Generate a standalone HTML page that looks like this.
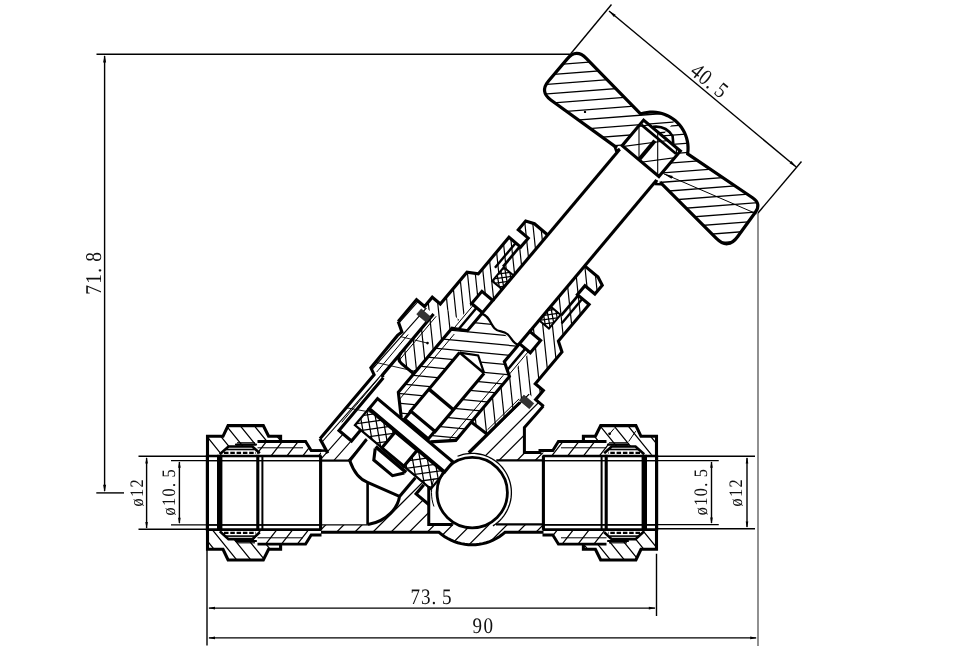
<!DOCTYPE html>
<html><head><meta charset="utf-8"><title>Valve drawing</title>
<style>
html,body{margin:0;padding:0;background:#fff;}
body{width:969px;height:664px;overflow:hidden;}
svg{display:block;will-change:transform;}
text{font-family:"Liberation Serif","Noto Serif CJK SC",serif;fill:#111;text-rendering:geometricPrecision;}
</style></head><body>
<svg width="969" height="664" viewBox="0 0 969 664" stroke-linejoin="miter" stroke-linecap="butt">
<rect width="969" height="664" fill="#fff"/>
<!-- section -->
<line x1="96.50" y1="54.20" x2="570.00" y2="54.20" stroke="#000" stroke-width="1.4" />
<line x1="104.60" y1="56.00" x2="104.60" y2="491.00" stroke="#000" stroke-width="1.4" />
<path d="M104.60,55.00L106.10,62.50L103.10,62.50Z" fill="#000" stroke="none"/>
<path d="M104.60,492.20L103.10,484.70L106.10,484.70Z" fill="#000" stroke="none"/>
<line x1="96.30" y1="492.90" x2="124.00" y2="492.90" stroke="#000" stroke-width="1.4" />
<text transform="translate(101.00,294.80) rotate(-90.00) scale(0.86,1)" x="0.00 12.85 25.70 38.55" y="0" font-size="22.6" >71.8</text>
<line x1="138.50" y1="456.25" x2="207.00" y2="456.25" stroke="#000" stroke-width="1.4" />
<line x1="138.50" y1="529.20" x2="207.00" y2="529.20" stroke="#000" stroke-width="1.4" />
<line x1="146.60" y1="458.00" x2="146.60" y2="528.00" stroke="#000" stroke-width="1.4" />
<path d="M146.60,456.90L147.90,463.40L145.30,463.40Z" fill="#000" stroke="none"/>
<path d="M146.60,528.60L145.30,522.10L147.90,522.10Z" fill="#000" stroke="none"/>
<line x1="171.00" y1="460.60" x2="320.00" y2="460.60" stroke="#000" stroke-width="1.4" />
<line x1="171.00" y1="524.90" x2="320.00" y2="524.90" stroke="#000" stroke-width="1.4" />
<line x1="179.40" y1="462.00" x2="179.40" y2="523.00" stroke="#000" stroke-width="1.4" />
<path d="M179.40,461.20L180.70,467.70L178.10,467.70Z" fill="#000" stroke="none"/>
<path d="M179.40,524.30L178.10,517.80L180.70,517.80Z" fill="#000" stroke="none"/>
<text transform="translate(142.60,506.60) rotate(-90.00) scale(0.86,1)" x="0.00 11.05 22.09" y="0" font-size="19" >ø12</text>
<text transform="translate(175.00,515.40) rotate(-90.00) scale(0.86,1)" x="0.00 11.05 22.09 33.14 44.19" y="0" font-size="19" >ø10.5</text>
<line x1="657.00" y1="456.25" x2="755.00" y2="456.25" stroke="#000" stroke-width="1.4" />
<line x1="657.00" y1="528.75" x2="755.00" y2="528.75" stroke="#000" stroke-width="1.4" />
<line x1="747.00" y1="458.00" x2="747.00" y2="527.00" stroke="#000" stroke-width="1.4" />
<path d="M747.00,456.90L748.30,463.40L745.70,463.40Z" fill="#000" stroke="none"/>
<path d="M747.00,528.10L745.70,521.60L748.30,521.60Z" fill="#000" stroke="none"/>
<line x1="543.00" y1="460.60" x2="718.75" y2="460.60" stroke="#000" stroke-width="1.4" />
<line x1="543.00" y1="524.60" x2="718.75" y2="524.60" stroke="#000" stroke-width="1.4" />
<line x1="711.50" y1="462.00" x2="711.50" y2="523.00" stroke="#000" stroke-width="1.4" />
<path d="M711.50,461.20L712.80,467.70L710.20,467.70Z" fill="#000" stroke="none"/>
<path d="M711.50,524.00L710.20,517.50L712.80,517.50Z" fill="#000" stroke="none"/>
<text transform="translate(707.00,515.30) rotate(-90.00) scale(0.86,1)" x="0.00 11.05 22.09 33.14 44.19" y="0" font-size="19" >ø10.5</text>
<text transform="translate(741.90,506.50) rotate(-90.00) scale(0.86,1)" x="0.00 11.05 22.09" y="0" font-size="19" >ø12</text>
<line x1="207.00" y1="548.00" x2="207.00" y2="645.50" stroke="#000" stroke-width="1.4" />
<line x1="656.50" y1="553.75" x2="656.50" y2="616.00" stroke="#000" stroke-width="1.4" />
<line x1="209.00" y1="608.10" x2="655.00" y2="608.10" stroke="#000" stroke-width="1.4" />
<path d="M208.00,608.10L215.00,606.80L215.00,609.40Z" fill="#000" stroke="none"/>
<path d="M655.80,608.10L648.80,609.40L648.80,606.80Z" fill="#000" stroke="none"/>
<line x1="209.00" y1="637.90" x2="756.00" y2="637.90" stroke="#000" stroke-width="1.4" />
<path d="M208.00,637.90L215.00,636.60L215.00,639.20Z" fill="#000" stroke="none"/>
<path d="M757.20,637.90L750.20,639.20L750.20,636.60Z" fill="#000" stroke="none"/>
<line x1="758.00" y1="213.00" x2="758.00" y2="646.00" stroke="#555" stroke-width="1.3" />
<text transform="translate(410.40,604.10) rotate(0.00) scale(0.86,1)" x="0.00 12.27 24.53 36.80" y="0" font-size="22.2" >73.5</text>
<text transform="translate(472.60,633.40) rotate(0.00) scale(0.86,1)" x="0.00 12.67" y="0" font-size="22.2" >90</text>
<line x1="609.00" y1="11.00" x2="796.25" y2="167.00" stroke="#000" stroke-width="1.4" />
<path d="M609.00,11.00L615.66,14.72L613.87,16.88Z" fill="#000" stroke="none"/>
<path d="M796.25,167.00L789.59,163.28L791.38,161.12Z" fill="#000" stroke="none"/>
<line x1="570.50" y1="54.00" x2="611.50" y2="4.50" stroke="#000" stroke-width="1.4" />
<line x1="758.00" y1="213.00" x2="801.50" y2="161.50" stroke="#000" stroke-width="1.4" />
<text transform="translate(689.00,73.60) rotate(39.00) scale(0.86,1)" x="0.00 11.98 23.95 35.93" y="0" font-size="22.4" >40.5</text>
<!-- section -->
<clipPath id="c1"><path d="M207.50,436.30 L223.00,436.30 L228.10,425.60 L263.30,425.60 L268.60,436.30 L280.60,436.30 L280.60,441.50 L257.50,441.50 L252.00,446.50 L228.00,446.50 L219.50,454.80 L207.50,454.80Z" clip-rule="evenodd"/></clipPath>
<g clip-path="url(#c1)" stroke="#000" stroke-width="1.25" fill="none"><path d="M258.6,379.1L358.4,502.4M250.2,386.0L350.0,509.2M241.7,392.8L341.5,516.1M233.2,399.7L333.0,523.0M224.7,406.6L324.5,529.8M216.3,413.4L316.1,536.7M207.8,420.3L307.6,543.5M199.3,427.1L299.1,550.4M190.9,434.0L290.7,557.2M182.4,440.9L282.2,564.1M173.9,447.7L273.7,571.0M165.4,454.6L265.3,577.8M157.0,461.4L256.8,584.7M148.5,468.3L248.3,591.5M140.0,475.2L239.8,598.4M131.6,482.0L231.4,605.3"/></g>
<clipPath id="c2"><path d="M257.50,441.50 L305.60,441.50 L311.20,450.60 L321.00,450.60 L321.00,456.20 L259.00,456.20 L252.00,446.50Z" clip-rule="evenodd"/></clipPath>
<g clip-path="url(#c2)" stroke="#000" stroke-width="1.25" fill="none"><path d="M188.6,500.6L270.0,396.4M198.5,508.3L279.8,404.1M208.3,515.9L289.7,411.8M218.2,523.6L299.5,419.5M228.0,531.3L309.4,427.2M237.9,539.0L319.2,434.9M247.7,546.7L329.1,442.6M257.6,554.4L338.9,450.3M267.4,562.1L348.8,458.0M277.3,569.8L358.6,465.7M287.1,577.5L368.5,473.4M297.0,585.2L378.3,481.1M306.8,592.9L388.2,488.8"/></g>
<path d="M207.50,456.20 L207.50,436.30 L223.00,436.30 L228.10,425.60 L263.30,425.60 L268.60,436.30 L280.60,436.30 L280.60,442.30" fill="none" stroke="#000" stroke-width="3.1" />
<path d="M257.50,441.50 L305.60,441.50 L311.20,450.60 L321.50,450.60" fill="none" stroke="#000" stroke-width="2.9" />
<line x1="257.50" y1="447.80" x2="303.00" y2="447.80" stroke="#000" stroke-width="1.0" />
<path d="M237.00,442.80 L255.00,442.80" fill="none" stroke="#000" stroke-width="1.2" />
<path d="M236.00,444.60 L256.00,444.60" fill="none" stroke="#000" stroke-width="2.2" stroke-linecap="round"/>
<path d="M219.80,454.30 L228.50,446.50 L252.30,446.50 L259.80,453.30" fill="none" stroke="#000" stroke-width="2.6" />
<path d="M226.00,449.50 L254.50,449.50" fill="none" stroke="#000" stroke-width="1.6" />
<path d="M224.00,452.80 L256.00,452.80" fill="none" stroke="#000" stroke-width="2.2" stroke-dasharray="4.5 1.8"/>
<path d="M207.50,456.00 L321.50,456.00" fill="none" stroke="#000" stroke-width="2.7" />
<line x1="207.50" y1="460.60" x2="320.40" y2="460.60" stroke="#000" stroke-width="1.4" />
<clipPath id="c3"><path d="M207.50,549.30 L223.00,549.30 L228.10,560.00 L263.30,560.00 L268.60,549.30 L280.60,549.30 L280.60,544.10 L257.50,544.10 L252.00,539.10 L228.00,539.10 L219.50,530.80 L207.50,530.80Z" clip-rule="evenodd"/></clipPath>
<g clip-path="url(#c3)" stroke="#000" stroke-width="1.25" fill="none"><path d="M258.6,379.1L358.4,502.4M250.2,386.0L350.0,509.2M241.7,392.8L341.5,516.1M233.2,399.7L333.0,523.0M224.7,406.6L324.5,529.8M216.3,413.4L316.1,536.7M207.8,420.3L307.6,543.5M199.3,427.1L299.1,550.4M190.9,434.0L290.7,557.2M182.4,440.9L282.2,564.1M173.9,447.7L273.7,571.0M165.4,454.6L265.3,577.8M157.0,461.4L256.8,584.7M148.5,468.3L248.3,591.5M140.0,475.2L239.8,598.4M131.6,482.0L231.4,605.3"/></g>
<clipPath id="c4"><path d="M257.50,544.10 L305.60,544.10 L311.20,535.00 L321.00,535.00 L321.00,529.40 L259.00,529.40 L252.00,539.10Z" clip-rule="evenodd"/></clipPath>
<g clip-path="url(#c4)" stroke="#000" stroke-width="1.25" fill="none"><path d="M188.6,500.6L270.0,396.4M198.5,508.3L279.8,404.1M208.3,515.9L289.7,411.8M218.2,523.6L299.5,419.5M228.0,531.3L309.4,427.2M237.9,539.0L319.2,434.9M247.7,546.7L329.1,442.6M257.6,554.4L338.9,450.3M267.4,562.1L348.8,458.0M277.3,569.8L358.6,465.7M287.1,577.5L368.5,473.4M297.0,585.2L378.3,481.1M306.8,592.9L388.2,488.8"/></g>
<path d="M207.50,529.40 L207.50,549.30 L223.00,549.30 L228.10,560.00 L263.30,560.00 L268.60,549.30 L280.60,549.30 L280.60,543.30" fill="none" stroke="#000" stroke-width="3.1" />
<path d="M257.50,544.10 L305.60,544.10 L311.20,535.00 L321.50,535.00" fill="none" stroke="#000" stroke-width="2.9" />
<line x1="257.50" y1="537.80" x2="303.00" y2="537.80" stroke="#000" stroke-width="1.0" />
<path d="M237.00,542.80 L255.00,542.80" fill="none" stroke="#000" stroke-width="1.2" />
<path d="M236.00,541.00 L256.00,541.00" fill="none" stroke="#000" stroke-width="2.2" stroke-linecap="round"/>
<path d="M219.80,531.30 L228.50,539.10 L252.30,539.10 L259.80,532.30" fill="none" stroke="#000" stroke-width="2.6" />
<path d="M226.00,536.10 L254.50,536.10" fill="none" stroke="#000" stroke-width="1.6" />
<path d="M224.00,532.80 L256.00,532.80" fill="none" stroke="#000" stroke-width="2.2" stroke-dasharray="4.5 1.8"/>
<path d="M207.50,529.60 L321.50,529.60" fill="none" stroke="#000" stroke-width="2.7" />
<line x1="207.50" y1="525.00" x2="320.40" y2="525.00" stroke="#000" stroke-width="1.4" />
<line x1="207.40" y1="454.80" x2="207.40" y2="530.80" stroke="#000" stroke-width="3.2" />
<line x1="219.70" y1="454.80" x2="219.70" y2="530.80" stroke="#000" stroke-width="5.4" />
<line x1="257.80" y1="454.80" x2="257.80" y2="530.80" stroke="#000" stroke-width="3.1" />
<line x1="262.40" y1="455.80" x2="262.40" y2="529.80" stroke="#000" stroke-width="2.0" />
<line x1="320.60" y1="455.80" x2="320.60" y2="529.80" stroke="#000" stroke-width="3.1" />
<clipPath id="c5"><path d="M656.50,436.30 L641.00,436.30 L635.90,425.60 L600.70,425.60 L595.40,436.30 L583.40,436.30 L583.40,441.50 L606.50,441.50 L612.00,446.50 L636.00,446.50 L644.50,454.80 L656.50,454.80Z" clip-rule="evenodd"/></clipPath>
<g clip-path="url(#c5)" stroke="#000" stroke-width="1.25" fill="none"><path d="M633.0,380.0L732.8,503.3M624.6,386.9L724.4,510.1M616.1,393.7L715.9,517.0M607.6,400.6L707.4,523.8M599.1,407.5L698.9,530.7M590.7,414.3L690.5,537.6M582.2,421.2L682.0,544.4M573.7,428.0L673.5,551.3M565.3,434.9L665.1,558.1M556.8,441.8L656.6,565.0M548.3,448.6L648.1,571.9M539.8,455.5L639.6,578.7M531.4,462.3L631.2,585.6M522.9,469.2L622.7,592.4M514.4,476.1L614.2,599.3M506.0,482.9L605.8,606.2"/></g>
<clipPath id="c6"><path d="M606.50,441.50 L558.40,441.50 L552.80,450.60 L543.00,450.60 L543.00,456.20 L605.00,456.20 L612.00,446.50Z" clip-rule="evenodd"/></clipPath>
<g clip-path="url(#c6)" stroke="#000" stroke-width="1.25" fill="none"><path d="M483.4,502.8L564.8,398.6M493.3,510.5L574.7,406.3M503.1,518.2L584.5,414.0M513.0,525.9L594.4,421.7M522.8,533.6L604.2,429.4M532.7,541.3L614.1,437.1M542.5,548.9L623.9,444.8M552.4,556.6L633.8,452.5M562.2,564.3L643.6,460.2M572.1,572.0L653.5,467.9M581.9,579.7L663.3,475.6M591.8,587.4L673.2,483.3"/></g>
<path d="M656.50,456.20 L656.50,436.30 L641.00,436.30 L635.90,425.60 L600.70,425.60 L595.40,436.30 L583.40,436.30 L583.40,442.30" fill="none" stroke="#000" stroke-width="3.1" />
<path d="M606.50,441.50 L558.40,441.50 L552.80,450.60 L542.50,450.60" fill="none" stroke="#000" stroke-width="2.9" />
<line x1="606.50" y1="447.80" x2="561.00" y2="447.80" stroke="#000" stroke-width="1.0" />
<path d="M627.00,442.80 L609.00,442.80" fill="none" stroke="#000" stroke-width="1.2" />
<path d="M628.00,444.60 L608.00,444.60" fill="none" stroke="#000" stroke-width="2.2" stroke-linecap="round"/>
<path d="M644.20,454.30 L635.50,446.50 L611.70,446.50 L604.20,453.30" fill="none" stroke="#000" stroke-width="2.6" />
<path d="M638.00,449.50 L609.50,449.50" fill="none" stroke="#000" stroke-width="1.6" />
<path d="M640.00,452.80 L608.00,452.80" fill="none" stroke="#000" stroke-width="2.2" stroke-dasharray="4.5 1.8"/>
<path d="M656.50,456.00 L542.50,456.00" fill="none" stroke="#000" stroke-width="2.7" />
<line x1="656.50" y1="460.60" x2="543.60" y2="460.60" stroke="#000" stroke-width="1.4" />
<clipPath id="c7"><path d="M656.50,549.30 L641.00,549.30 L635.90,560.00 L600.70,560.00 L595.40,549.30 L583.40,549.30 L583.40,544.10 L606.50,544.10 L612.00,539.10 L636.00,539.10 L644.50,530.80 L656.50,530.80Z" clip-rule="evenodd"/></clipPath>
<g clip-path="url(#c7)" stroke="#000" stroke-width="1.25" fill="none"><path d="M633.0,380.0L732.8,503.3M624.6,386.9L724.4,510.1M616.1,393.7L715.9,517.0M607.6,400.6L707.4,523.8M599.1,407.5L698.9,530.7M590.7,414.3L690.5,537.6M582.2,421.2L682.0,544.4M573.7,428.0L673.5,551.3M565.3,434.9L665.1,558.1M556.8,441.8L656.6,565.0M548.3,448.6L648.1,571.9M539.8,455.5L639.6,578.7M531.4,462.3L631.2,585.6M522.9,469.2L622.7,592.4M514.4,476.1L614.2,599.3M506.0,482.9L605.8,606.2"/></g>
<clipPath id="c8"><path d="M606.50,544.10 L558.40,544.10 L552.80,535.00 L543.00,535.00 L543.00,529.40 L605.00,529.40 L612.00,539.10Z" clip-rule="evenodd"/></clipPath>
<g clip-path="url(#c8)" stroke="#000" stroke-width="1.25" fill="none"><path d="M483.4,502.8L564.8,398.6M493.3,510.5L574.7,406.3M503.1,518.2L584.5,414.0M513.0,525.9L594.4,421.7M522.8,533.6L604.2,429.4M532.7,541.3L614.1,437.1M542.5,548.9L623.9,444.8M552.4,556.6L633.8,452.5M562.2,564.3L643.6,460.2M572.1,572.0L653.5,467.9M581.9,579.7L663.3,475.6M591.8,587.4L673.2,483.3"/></g>
<path d="M656.50,529.40 L656.50,549.30 L641.00,549.30 L635.90,560.00 L600.70,560.00 L595.40,549.30 L583.40,549.30 L583.40,543.30" fill="none" stroke="#000" stroke-width="3.1" />
<path d="M606.50,544.10 L558.40,544.10 L552.80,535.00 L542.50,535.00" fill="none" stroke="#000" stroke-width="2.9" />
<line x1="606.50" y1="537.80" x2="561.00" y2="537.80" stroke="#000" stroke-width="1.0" />
<path d="M627.00,542.80 L609.00,542.80" fill="none" stroke="#000" stroke-width="1.2" />
<path d="M628.00,541.00 L608.00,541.00" fill="none" stroke="#000" stroke-width="2.2" stroke-linecap="round"/>
<path d="M644.20,531.30 L635.50,539.10 L611.70,539.10 L604.20,532.30" fill="none" stroke="#000" stroke-width="2.6" />
<path d="M638.00,536.10 L609.50,536.10" fill="none" stroke="#000" stroke-width="1.6" />
<path d="M640.00,532.80 L608.00,532.80" fill="none" stroke="#000" stroke-width="2.2" stroke-dasharray="4.5 1.8"/>
<path d="M656.50,529.60 L542.50,529.60" fill="none" stroke="#000" stroke-width="2.7" />
<line x1="656.50" y1="525.00" x2="543.60" y2="525.00" stroke="#000" stroke-width="1.4" />
<line x1="656.60" y1="454.80" x2="656.60" y2="530.80" stroke="#000" stroke-width="3.2" />
<line x1="644.30" y1="454.80" x2="644.30" y2="530.80" stroke="#000" stroke-width="5.4" />
<line x1="606.20" y1="454.80" x2="606.20" y2="530.80" stroke="#000" stroke-width="3.1" />
<line x1="601.60" y1="455.80" x2="601.60" y2="529.80" stroke="#000" stroke-width="2.0" />
<line x1="543.40" y1="455.80" x2="543.40" y2="529.80" stroke="#000" stroke-width="3.1" />
<!-- section -->
<clipPath id="c9"><path d="M627.16,139.69L619.00,149.42L550.81,99.94Q539.49,91.71 548.52,81.02L567.05,59.10Q576.28,48.18 586.28,58.41L640.05,113.44L641.01,113.85L643.93,113.06L646.90,112.51L649.91,112.21L652.94,112.16L655.96,112.37L658.95,112.83L661.90,113.54L664.77,114.50L667.55,115.69L670.22,117.11L672.77,118.75L675.17,120.59L677.40,122.63L679.46,124.86L681.32,127.24L682.98,129.78L684.42,132.44L685.63,135.21L686.60,138.08L687.33,141.02L687.81,144.01L688.04,147.02L688.01,150.05L687.73,153.06L687.67,153.92L752.89,198.03Q761.46,203.82 755.38,212.19L737.53,236.78Q727.95,249.98 716.35,238.51L656.54,179.36L663.93,170.55ZM627.16,139.69 L663.93,170.55 L680.38,150.94 L643.61,120.08Z" clip-rule="evenodd"/></clipPath>
<g clip-path="url(#c9)">
<clipPath id="c10"><path d="M512.97,96.09 L620.22,186.08 L684.49,109.48 L577.25,19.49Z" clip-rule="evenodd"/></clipPath>
<g clip-path="url(#c10)" stroke="#000" stroke-width="1.3" fill="none"><path d="M495.8,21.8L693.7,6.6M496.5,31.3L694.4,16.1M497.2,40.7L695.2,25.5M498.0,50.2L695.9,34.9M498.7,59.6L696.6,44.4M499.4,69.1L697.3,53.8M500.2,78.5L698.1,63.3M500.9,87.9L698.8,72.7M501.6,97.4L699.5,82.2M502.3,106.8L700.2,91.6M503.1,116.3L701.0,101.0M503.8,125.7L701.7,110.5M504.5,135.2L702.4,119.9M505.2,144.6L703.1,129.4M506.0,154.0L703.9,138.8M506.7,163.5L704.6,148.3M507.4,172.9L705.3,157.7M508.1,182.4L706.0,167.1M508.9,191.8L706.8,176.6M509.6,201.2L707.5,186.0M510.3,210.7L708.2,195.5M511.1,220.1L709.0,204.9M511.8,229.6L709.7,214.3"/></g>
<clipPath id="c11"><path d="M620.22,186.08 L727.46,276.07 L791.74,199.47 L684.49,109.48Z" clip-rule="evenodd"/></clipPath>
<g clip-path="url(#c11)" stroke="#000" stroke-width="1.3" fill="none"><path d="M586.8,77.0L792.0,61.2M587.5,86.2L792.7,70.4M588.2,95.4L793.4,79.6M588.9,104.6L794.1,88.8M589.6,113.8L794.8,98.0M590.3,123.0L795.5,107.2M591.0,132.2L796.2,116.4M591.7,141.4L796.9,125.6M592.4,150.6L797.6,134.8M593.1,159.8L798.3,144.0M593.8,169.0L799.0,153.2M594.5,178.2L799.7,162.4M595.3,187.4L800.4,171.6M596.0,196.6L801.2,180.8M596.7,205.8L801.9,190.1M597.4,215.0L802.6,199.3M598.1,224.2L803.3,208.5M598.8,233.4L804.0,217.7M599.5,242.7L804.7,226.9M600.2,251.9L805.4,236.1M600.9,261.1L806.1,245.3M601.6,270.3L806.8,254.5M602.3,279.5L807.5,263.7M603.0,288.7L808.2,272.9"/></g>
</g>
<line x1="663.50" y1="173.60" x2="756.50" y2="213.80" stroke="#000" stroke-width="1.0" />
<path d="M663.00,173.40L672.81,175.90L671.54,178.84Z" fill="#000" stroke="none"/>
<path d="M617.02,147.89L550.83,99.93Q539.49,91.71 548.53,81.01L567.05,59.10Q576.28,48.18 586.28,58.41L640.05,113.44L641.01,113.85L643.93,113.06L646.90,112.51L649.91,112.21L652.94,112.16L655.96,112.37L658.95,112.83L661.90,113.54L664.77,114.50L667.55,115.69L670.22,117.11L672.77,118.75L675.17,120.59L677.40,122.63L679.46,124.86L681.32,127.24L682.98,129.78L684.42,132.44L685.63,135.21L686.60,138.08L687.33,141.02L687.81,144.01L688.04,147.02L688.01,150.05L687.73,153.06L687.67,153.92L752.89,198.03Q761.46,203.82 755.38,212.19L737.57,236.72Q727.95,249.98 716.35,238.40L660.05,182.17" fill="none" stroke="#000" stroke-width="3.2" />
<path d="M614.33,145.64 L616.05,150.60 L619.75,149.14" fill="none" stroke="#000" stroke-width="2.4" />
<path d="M661.58,184.24 L655.88,184.03 L656.67,180.12" fill="none" stroke="#000" stroke-width="2.4" />
<path d="M619.75,149.14 L492.80,300.44" fill="none" stroke="#000" stroke-width="3.1" />
<path d="M656.67,180.12 L529.72,331.42" fill="none" stroke="#000" stroke-width="3.1" />
<path d="M622.14,145.67 L658.91,176.52 L680.38,150.94 L643.61,120.08Z" fill="none" stroke="#000" stroke-width="3.1" />
<path d="M641.55,124.88 L676.02,153.80" fill="none" stroke="#000" stroke-width="2.8" />
<path d="M653.00,126.78 Q666.00,125.29 672.62,136.07 L673.30,143.82" fill="none" stroke="#000" stroke-width="2.6" />
<path d="M639.76,158.75 L654.86,140.75" fill="none" stroke="#000" stroke-width="4.0" />
<clipPath id="c12"><path d="M622.14,145.67 L658.91,176.52 L680.38,150.94 L643.61,120.08Z" clip-rule="evenodd"/></clipPath>
<g clip-path="url(#c12)" stroke="#000" stroke-width="1.1" fill="none"><path d="M713.8,102.5L713.8,193.5M695.1,102.5L695.1,193.5M676.4,102.5L676.4,193.5M657.7,102.5L657.7,193.5M639.0,102.5L639.0,193.5M620.3,102.5L620.3,193.5M601.6,102.5L601.6,193.5"/></g>
<clipPath id="c13"><path d="M622.14,145.67 L658.91,176.52 L680.38,150.94 L643.61,120.08Z" clip-rule="evenodd"/></clipPath>
<g clip-path="url(#c13)" stroke="#000" stroke-width="1.1" fill="none"><path d="M598.6,95.5L688.8,83.5M601.0,113.3L691.2,101.2M603.3,131.1L693.5,119.0M605.7,148.8L695.9,136.8M608.1,166.6L698.3,154.6M610.5,184.4L700.7,172.4M612.8,202.2L703.0,190.2"/></g>
<!-- section -->
<clipPath id="c14"><path d="M321.00,525.00 L368.00,525.00 L368.00,524.00 L385.00,518.70 L395.00,510.00 L399.50,496.50 L415.39,477.63 L423.82,484.70 L416.10,493.90 L428.75,504.50 L428.75,524.40 L452.50,524.40 L456.77,524.24 L458.59,525.06 L460.45,525.78 L462.35,526.39 L464.28,526.90 L466.24,527.29 L468.22,527.57 L470.20,527.74 L472.20,527.80 L474.20,527.74 L476.18,527.57 L478.16,527.29 L480.12,526.90 L482.05,526.39 L483.95,525.78 L485.81,525.06 L487.63,524.24 L496.30,524.40 L543.00,524.40 L543.00,532.30 L505.00,532.30 L505.00,532.30 L502.21,534.59 L499.27,536.67 L496.18,538.53 L492.97,540.17 L489.64,541.57 L486.23,542.72 L482.74,543.63 L479.19,544.28 L475.60,544.67 L472.00,544.80 L468.40,544.67 L464.81,544.28 L461.26,543.63 L457.77,542.72 L454.36,541.57 L451.03,540.17 L447.82,538.53 L444.73,536.67 L441.79,534.59 L439.00,532.30 L438.70,532.30 L321.00,532.30Z" clip-rule="evenodd"/></clipPath>
<g clip-path="url(#c14)" stroke="#000" stroke-width="1.25" fill="none"><path d="M254.7,505.2L423.7,336.2M263.8,514.3L432.8,345.3M272.8,523.4L441.9,354.3M281.9,532.4L450.9,363.4M291.0,541.5L460.0,372.5M300.0,550.6L469.1,381.5M309.1,559.6L478.1,390.6M318.2,568.7L487.2,399.7M327.2,577.8L496.3,408.7M336.3,586.8L505.3,417.8M345.4,595.9L514.4,426.9M354.4,605.0L523.5,435.9M363.5,614.0L532.5,445.0M372.6,623.1L541.6,454.1M381.6,632.1L550.6,463.1M390.7,641.2L559.7,472.2M399.7,650.3L568.8,481.2M408.8,659.3L577.8,490.3M417.9,668.4L586.9,499.4M426.9,677.5L596.0,508.4M436.0,686.5L605.0,517.5"/></g>
<clipPath id="c15"><path d="M496.30,460.60 L543.70,460.60 L543.70,452.50 L524.40,452.50 L524.40,427.50 L543.29,406.11 L528.35,393.58 L520.10,402.32 L474.13,447.30 L465.36,453.80 L468.63,453.36 L471.92,453.20 L475.22,453.32 L478.50,453.71 L481.73,454.37 L484.90,455.30 L487.97,456.50 L490.94,457.94 L493.77,459.63 L496.46,461.55Z" clip-rule="evenodd"/></clipPath>
<g clip-path="url(#c15)" stroke="#000" stroke-width="1.25" fill="none"><path d="M406.7,425.7L494.7,337.7M415.8,434.8L503.8,346.8M424.9,443.9L512.9,355.9M433.9,452.9L521.9,364.9M443.0,462.0L531.0,374.0M452.1,471.1L540.1,383.1M461.1,480.1L549.1,392.1M470.2,489.2L558.2,401.2M479.3,498.2L567.2,410.3M488.3,507.3L576.3,419.3M497.4,516.4L585.4,428.4M506.5,525.4L594.4,437.5"/></g>
<clipPath id="c16"><path d="M397.31,335.83 L370.63,367.62 L373.94,374.58 L319.99,438.71 L327.50,453.10 L321.00,450.60 L321.00,460.60 L349.70,460.60 L367.25,438.55 L360.49,430.26 L351.50,440.99 L339.01,430.51 L383.36,377.65 L382.49,374.96 L433.59,314.06 L416.51,299.73 L398.51,321.18 L401.93,331.88Z" clip-rule="evenodd"/></clipPath>
<g clip-path="url(#c16)" stroke="#000" stroke-width="1.1" fill="none"><path d="M229.3,386.8L369.0,228.9M237.2,393.8L376.9,235.9M245.2,400.8L384.8,242.9M253.1,407.8L392.8,250.0M261.0,414.9L400.7,257.0M269.0,421.9L408.7,264.0M276.9,428.9L416.6,271.0M284.8,435.9L424.5,278.0M292.8,443.0L432.5,285.1M300.7,450.0L440.4,292.1M308.7,457.0L448.4,299.1M316.6,464.0L456.3,306.1M324.5,471.1L464.2,313.2M332.5,478.1L472.2,320.2M340.4,485.1L480.1,327.2M348.4,492.1L488.0,334.2M356.3,499.2L496.0,341.3M364.2,506.2L503.9,348.3M372.2,513.2L511.9,355.3M380.1,520.2L519.8,362.3M388.1,527.2L527.7,369.4M396.0,534.3L535.7,376.4"/></g>
<path d="M321.00,532.30 L438.70,532.30 L439.00,532.30 L441.79,534.59 L444.73,536.67 L447.82,538.53 L451.03,540.17 L454.36,541.57 L457.77,542.72 L461.26,543.63 L464.81,544.28 L468.40,544.67 L472.00,544.80 L475.60,544.67 L479.19,544.28 L482.74,543.63 L486.23,542.72 L489.64,541.57 L492.97,540.17 L496.18,538.53 L499.27,536.67 L502.21,534.59 L505.00,532.30 L505,532.3 L543.5,532.3" fill="none" stroke="#000" stroke-width="3.0" />
<line x1="320.50" y1="524.90" x2="368.00" y2="524.90" stroke="#000" stroke-width="1.4" />
<path d="M428.75,486.00 L428.75,524.40 L452.80,524.40" fill="none" stroke="#000" stroke-width="3.0" />
<path d="M496.00,524.40 L543.50,524.40" fill="none" stroke="#000" stroke-width="2.2" />
<circle cx="472.2" cy="492.6" r="35.2" fill="#fff" stroke="#000" stroke-width="2.8"/>
<path d="M457.52,456.25 L460.25,455.27 L463.05,454.48 L465.90,453.91 L468.78,453.55 L471.69,453.40 L474.59,453.47 L477.49,453.76 L480.35,454.26 L483.17,454.97 L485.93,455.88 L488.61,457.00 L491.20,458.31 L493.69,459.82 L496.06,461.50 L498.30,463.35 L500.40,465.37 L502.34,467.53 L504.11,469.84 L505.71,472.26 L507.13,474.80 L508.35,477.44 L509.37,480.16 L510.19,482.95 L510.80,485.79 L511.20,488.67 L511.39,491.57 L511.35,494.48 L511.11,497.38 L510.65,500.25 L509.97,503.08 L509.09,505.85 L508.01,508.54 L506.73,511.15 L505.26,513.66 L503.61,516.05 L501.78,518.32 L499.80,520.44 L497.66,522.41 L495.38,524.21 L492.97,525.84" fill="none" stroke="#000" stroke-width="1.3" />
<path d="M433.95,478.68 L432.89,482.07 L432.12,485.53 L431.65,489.05 L431.50,492.60 L431.65,496.15 L432.12,499.67 L432.89,503.13 L433.95,506.52" fill="none" stroke="#000" stroke-width="1.0" />
<path d="M496.30,460.40 L543.50,460.40" fill="none" stroke="#000" stroke-width="2.2" />
<path d="M320.50,460.60 L349.70,460.60" fill="none" stroke="#000" stroke-width="2.2" />
<path d="M349.7,460.6 C353,470 358,479 367.6,482.3 L399.5,496.5 C398,507 388,521 368,524.6" fill="none" stroke="#000" stroke-width="3.0" />
<line x1="367.60" y1="482.30" x2="367.60" y2="524.60" stroke="#000" stroke-width="2.6" />
<path d="M543.29,406.11 L524.40,427.50 L524.40,452.50 L540.00,452.50 L540.00,450.60 L552.70,450.60" fill="none" stroke="#000" stroke-width="3.0" />
<path d="M311.00,450.60 L326.00,450.60" fill="none" stroke="#000" stroke-width="2.5" />
<!-- section -->
<clipPath id="c17"><path d="M584.68,265.92 L598.01,277.11 L602.27,285.25 L594.88,294.06 L584.92,285.70 L577.40,294.67 L588.89,304.31 L558.17,340.93 L561.97,351.95 L535.30,383.74 L516.53,367.99 L529.70,352.29 L530.32,352.80 L540.60,340.55 L529.72,331.42 L539.04,320.31 L548.93,328.60 L560.50,314.81 L550.61,306.52Z" clip-rule="evenodd"/></clipPath>
<g clip-path="url(#c17)" stroke="#000" stroke-width="1.2" fill="none"><path d="M630.6,242.1L646.2,391.0M621.0,243.1L636.7,392.0M611.5,244.1L627.1,393.0M601.9,245.1L617.6,394.0M592.4,246.1L608.0,395.0M582.8,247.1L598.5,396.0M573.3,248.1L588.9,397.0M563.7,249.1L579.4,398.0M554.2,250.1L569.8,399.0M544.6,251.1L560.3,400.0M535.1,252.1L550.7,401.0M525.5,253.1L541.2,402.0M516.0,254.1L531.6,403.0M506.4,255.1L522.1,404.0M496.9,256.1L512.5,405.0M487.3,257.1L503.0,406.0M477.8,258.1L493.4,407.0M468.3,259.1L483.9,408.0"/></g>
<clipPath id="c18"><path d="M543.34,390.49 L535.63,399.68 L528.35,393.58 L487.25,434.15 L471.21,422.00 L516.53,367.99Z" clip-rule="evenodd"/></clipPath>
<g clip-path="url(#c18)" stroke="#000" stroke-width="1.2" fill="none"><path d="M554.5,344.9L565.1,446.2M544.9,345.9L555.6,447.2M535.4,346.9L546.0,448.2M525.8,347.9L536.5,449.2M516.3,348.9L526.9,450.2M506.8,349.9L517.4,451.2M497.2,350.9L507.9,452.2M487.7,351.9L498.3,453.2M478.1,352.9L488.8,454.2M468.6,353.9L479.2,455.2M459.0,354.9L469.7,456.2M449.5,355.9L460.1,457.2"/></g>
<clipPath id="c19"><path d="M539.04,320.31 L548.93,328.60 L560.50,314.81 L550.61,306.52Z" clip-rule="evenodd"/></clipPath>
<g clip-path="url(#c19)" stroke="#000" stroke-width="1.25" fill="none"><path d="M566.6,296.9L572.6,331.2M562.3,297.7L568.4,331.9M558.1,298.4L564.1,332.7M553.9,299.2L559.9,333.4M549.6,299.9L555.7,334.2M545.4,300.7L551.4,334.9M541.2,301.4L547.2,335.7M536.9,302.2L543.0,336.4M532.7,302.9L538.7,337.2M528.5,303.7L534.5,337.9"/><path d="M529.7,300.0L564.2,295.2M530.3,304.3L564.8,299.4M530.9,308.5L565.4,303.7M531.5,312.8L566.0,307.9M532.1,317.0L566.6,312.2M532.7,321.3L567.2,316.4M533.3,325.5L567.8,320.7M533.9,329.8L568.4,325.0M534.5,334.1L569.0,329.2M535.1,338.3L569.6,333.5"/></g>
<clipPath id="c20"><path d="M547.76,234.94 L534.43,223.75 L525.67,220.97 L518.28,229.78 L528.24,238.14 L520.71,247.10 L509.22,237.46 L478.50,274.08 L466.98,272.24 L440.31,304.03 L459.07,319.78 L472.25,304.08 L471.64,303.56 L481.92,291.31 L492.80,300.44 L502.12,289.33 L492.24,281.04 L503.81,267.25 L513.69,275.54Z" clip-rule="evenodd"/></clipPath>
<g clip-path="url(#c20)" stroke="#000" stroke-width="1.2" fill="none"><path d="M568.2,187.2L583.9,336.3M560.4,188.0L576.1,337.2M552.7,188.8L568.3,338.0M544.9,189.6L560.6,338.8M537.1,190.4L552.8,339.6M529.4,191.3L545.1,340.4M521.6,192.1L537.3,341.2M513.9,192.9L529.6,342.0M506.1,193.7L521.8,342.9M498.4,194.5L514.0,343.7M490.6,195.3L506.3,344.5M482.8,196.2L498.5,345.3M475.1,197.0L490.8,346.1M467.3,197.8L483.0,346.9M459.6,198.6L475.3,347.8M451.8,199.4L467.5,348.6M444.1,200.2L459.7,349.4M436.3,201.0L452.0,350.2M428.5,201.9L444.2,351.0M420.8,202.7L436.5,351.8M413.0,203.5L428.7,352.6M405.3,204.3L421.0,353.5"/></g>
<clipPath id="c21"><path d="M432.26,297.29 L424.55,306.48 L433.59,314.06 L400.16,353.90 L398.96,358.76 L401.12,363.18 L413.76,373.79 L459.07,319.78Z" clip-rule="evenodd"/></clipPath>
<g clip-path="url(#c21)" stroke="#000" stroke-width="1.2" fill="none"><path d="M482.5,279.0L493.1,379.7M473.1,280.0L483.7,380.7M463.8,281.0L474.4,381.7M454.4,281.9L465.0,382.7M445.1,282.9L455.7,383.7M435.7,283.9L446.3,384.6M426.4,284.9L437.0,385.6M417.0,285.9L427.6,386.6M407.7,286.9L418.3,387.6M398.3,287.8L408.9,388.6M389.0,288.8L399.6,389.6M379.6,289.8L390.2,390.5M370.3,290.8L380.9,391.5"/></g>
<clipPath id="c22"><path d="M502.12,289.33 L492.24,281.04 L503.81,267.25 L513.69,275.54Z" clip-rule="evenodd"/></clipPath>
<g clip-path="url(#c22)" stroke="#000" stroke-width="1.25" fill="none"><path d="M520.3,257.6L526.4,291.8M516.1,258.3L522.1,292.6M511.9,259.1L517.9,293.3M507.6,259.8L513.7,294.1M503.4,260.6L509.4,294.8M499.2,261.3L505.2,295.6M494.9,262.0L501.0,296.3M490.7,262.8L496.7,297.0M486.5,263.5L492.5,297.8M482.2,264.3L488.3,298.5"/><path d="M483.3,263.1L517.7,258.3M483.9,267.4L518.3,262.5M484.5,271.6L518.9,266.8M485.1,275.9L519.5,271.0M485.7,280.1L520.1,275.3M486.3,284.4L520.7,279.6M486.9,288.7L521.3,283.8M487.5,292.9L521.9,288.1M488.1,297.2L522.5,292.3M488.7,301.4L523.1,296.6"/></g>
<clipPath id="c23"><path d="M480.22,314.03 L466.72,330.12 L452.00,328.21 L398.33,392.17 L401.25,417.47 L403.55,419.40 L459.60,352.60 L478.16,355.38 L484.12,373.17 L428.07,439.97 L430.36,441.90 L455.78,440.38 L509.46,376.42 L505.02,362.26 L518.52,346.17Z" clip-rule="evenodd"/></clipPath>
<g clip-path="url(#c23)" stroke="#000" stroke-width="1.25" fill="none"><path d="M378.1,274.6L556.7,291.5M377.1,284.3L555.8,301.1M376.2,293.9L554.9,310.8M375.3,303.6L554.0,320.5M374.4,313.2L553.1,330.1M373.5,322.9L552.2,339.8M372.6,332.5L551.3,349.4M371.7,342.2L550.4,359.1M370.8,351.9L549.4,368.7M369.8,361.5L548.5,378.4M368.9,371.2L547.6,388.1M368.0,380.8L546.7,397.7M367.1,390.5L545.8,407.4M366.2,400.1L544.9,417.0M365.3,409.8L544.0,426.7M364.4,419.5L543.1,436.3M363.4,429.1L542.1,446.0M362.5,438.8L541.2,455.7M361.6,448.4L540.3,465.3M360.7,458.1L539.4,475.0M359.8,467.7L538.5,484.6"/></g>
<clipPath id="c24"><path d="M404.10,466.20 L430.91,488.70 L444.09,472.99 L417.27,450.50Z" clip-rule="evenodd"/></clipPath>
<g clip-path="url(#c24)" stroke="#000" stroke-width="1.25" fill="none"><path d="M452.6,434.5L462.9,492.9M445.4,435.7L455.7,494.1M438.2,437.0L448.5,495.4M431.1,438.3L441.3,496.7M423.9,439.5L434.2,497.9M416.7,440.8L427.0,499.2M409.5,442.1L419.8,500.5M402.3,443.3L412.6,501.7M395.1,444.6L405.4,503.0M387.9,445.9L398.2,504.3"/><path d="M390.1,441.1L448.9,432.8M391.2,448.3L449.9,440.1M392.2,455.6L450.9,447.3M393.2,462.8L451.9,454.5M394.2,470.0L452.9,461.8M395.2,477.2L453.9,469.0M396.2,484.5L455.0,476.2M397.3,491.7L456.0,483.4M398.3,498.9L457.0,490.7M399.3,506.2L458.0,497.9"/></g>
<clipPath id="c25"><path d="M381.88,447.56 L355.07,425.06 L368.25,409.36 L395.06,431.85Z" clip-rule="evenodd"/></clipPath>
<g clip-path="url(#c25)" stroke="#000" stroke-width="1.25" fill="none"><path d="M401.0,393.8L411.3,452.2M393.8,395.0L404.1,453.5M386.6,396.3L396.9,454.7M379.4,397.6L389.7,456.0M372.2,398.9L382.5,457.3M365.0,400.1L375.3,458.5M357.8,401.4L368.1,459.8M350.6,402.7L360.9,461.1M343.5,403.9L353.8,462.3M336.3,405.2L346.6,463.6"/><path d="M340.6,396.5L399.3,388.2M341.6,403.7L400.4,395.4M342.7,410.9L401.4,402.7M343.7,418.1L402.4,409.9M344.7,425.4L403.4,417.1M345.7,432.6L404.4,424.3M346.7,439.8L405.4,431.6M347.7,447.1L406.5,438.8M348.8,454.3L407.5,446.0M349.8,461.5L408.5,453.3M350.8,468.7L409.5,460.5"/></g>
<path d="M584.68,265.92 L598.01,277.11 L602.27,285.25 L594.88,294.06 L584.92,285.70 L577.40,294.67 L589.12,304.50 L558.40,341.12 L561.97,351.95 L535.30,383.74 L543.34,390.49 L535.63,399.68 L543.67,406.43" fill="none" stroke="#000" stroke-width="3.1" />
<path d="M578.17,295.31 L561.26,315.46" fill="none" stroke="#000" stroke-width="2.7" />
<path d="M582.38,298.84 L561.62,323.59" fill="none" stroke="#000" stroke-width="2.4" />
<path d="M539.04,320.31 L548.93,328.60 L560.50,314.81 L550.61,306.52Z" fill="none" stroke="#000" stroke-width="2.0" />
<path d="M519.44,343.67 L530.32,352.80 L540.60,340.55 L529.72,331.42Z" fill="none" stroke="#000" stroke-width="3.1" />
<path d="M519.44,343.67 L504.33,361.68 L509.46,376.42 L455.78,440.38 L430.36,441.90" fill="none" stroke="#000" stroke-width="3.1" />
<path d="M525.34,348.62 L507.34,370.07" fill="none" stroke="#000" stroke-width="2.5" />
<path d="M528.56,351.32 L508.95,374.69" fill="none" stroke="#000" stroke-width="1.0" />
<path d="M503.32,375.18 L448.68,440.29" fill="none" stroke="#000" stroke-width="1.0" />
<path d="M471.21,422.00 L487.25,434.15" fill="none" stroke="#000" stroke-width="3.1" />
<path d="M520.10,402.32 L468.70,452.53" fill="none" stroke="#000" stroke-width="3.1" />
<path d="M519.09,398.86 L487.51,429.80" fill="none" stroke="#000" stroke-width="1.0" />
<path d="M519.36,400.40 L529.32,408.75 L533.82,403.39 L523.86,395.03Z" fill="#333" stroke="#000" stroke-width="0.5" />
<path d="M547.76,234.94 L534.43,223.75 L525.67,220.97 L518.28,229.78 L528.24,238.14 L520.71,247.10 L508.99,237.27 L478.27,273.88 L466.98,272.24 L440.31,304.03 L432.26,297.29 L424.55,306.48 L416.51,299.73 L398.19,321.56" fill="none" stroke="#000" stroke-width="3.1" />
<path d="M519.95,246.46 L503.04,266.60" fill="none" stroke="#000" stroke-width="2.7" />
<path d="M515.74,242.92 L494.97,267.67" fill="none" stroke="#000" stroke-width="2.4" />
<path d="M502.12,289.33 L492.24,281.04 L503.81,267.25 L513.69,275.54Z" fill="none" stroke="#000" stroke-width="2.0" />
<path d="M482.52,312.69 L471.64,303.56 L481.92,291.31 L492.80,300.44Z" fill="none" stroke="#000" stroke-width="3.1" />
<path d="M482.52,312.69 L467.41,330.69 L452.00,328.21 L398.33,392.17 L401.25,417.47" fill="none" stroke="#000" stroke-width="3.1" />
<path d="M476.62,307.74 L458.62,329.19" fill="none" stroke="#000" stroke-width="2.5" />
<path d="M473.40,305.04 L453.80,328.41" fill="none" stroke="#000" stroke-width="1.0" />
<path d="M454.29,334.04 L399.65,399.16" fill="none" stroke="#000" stroke-width="1.0" />
<path d="M413.76,373.79 L401.88,363.83 Q396.14,359.00 400.81,353.13" fill="none" stroke="#000" stroke-width="3.1" />
<path d="M433.59,314.06 L382.49,374.96 L382.82,377.21" fill="none" stroke="#000" stroke-width="3.1" />
<path d="M436.19,316.25 L398.59,361.06" fill="none" stroke="#000" stroke-width="1.0" />
<path d="M408.19,334.53 L376.70,372.06" fill="none" stroke="#000" stroke-width="1.0" />
<path d="M426.67,322.62 L416.71,314.26 L421.21,308.90 L431.17,317.26Z" fill="#333" stroke="#000" stroke-width="0.5" />
<path d="M481.25,313.58 C492.50,316.50 489.39,329.55 500.90,331.38 S509.70,342.68 518.78,345.08" fill="none" stroke="#000" stroke-width="2.2" />
<path d="M459.60,352.60 L410.62,410.97 L435.14,431.54 L484.12,373.17" fill="none" stroke="#000" stroke-width="3.1" />
<path d="M459.60,352.60 L478.16,355.38 L484.12,373.17" fill="none" stroke="#000" stroke-width="2.2" />
<path d="M459.60,352.60 L484.12,373.17" fill="none" stroke="#000" stroke-width="2.6" />
<path d="M428.94,389.14 L453.46,409.71" fill="none" stroke="#000" stroke-width="3.4" />
<path d="M411.01,411.29 L404.58,418.96 L428.33,438.88 L434.75,431.22" fill="none" stroke="#000" stroke-width="3.1" />
<path d="M369.24,408.49 L444.77,471.87 L453.06,461.99 L377.53,398.61Z" fill="#fff" stroke="#000" stroke-width="3.1" />
<path d="M354.94,425.21 L430.78,488.85 L444.09,472.99 L368.25,409.36Z" fill="none" stroke="#000" stroke-width="2.2" />
<path d="M381.91,447.84 L403.82,466.22 L417.12,450.37 L395.21,431.98Z" fill="#fff" stroke="#000" stroke-width="3.1" />
<path d="M375.22,448.50 L373.81,459.98 L392.50,475.66 L404.33,472.92" fill="none" stroke="#000" stroke-width="3.1" />
<path d="M375.55,446.55 L406.19,472.26" fill="none" stroke="#000" stroke-width="3.6" />
<path d="M398.19,321.56 L401.93,331.88 L397.55,335.39 L370.86,367.82 L374.09,374.70 L319.99,438.71" fill="none" stroke="#000" stroke-width="3.1" />
<path d="M319.99,438.71 L327.80,453.30" fill="none" stroke="#000" stroke-width="3.2" />
<path d="M383.36,377.65 L339.01,430.51 L351.50,440.99 L360.49,430.26" fill="none" stroke="#000" stroke-width="3.1" />
<path d="M378.34,378.66 L341.70,422.33" fill="none" stroke="#000" stroke-width="1.0" />
<path d="M423.82,484.70 L416.10,493.90 L428.75,504.51" fill="none" stroke="#000" stroke-width="3.1" />
<path d="M399.50,496.50 L415.39,477.63" fill="none" stroke="#000" stroke-width="3.1" />
<path d="M349.80,460.60 L366.61,439.31" fill="none" stroke="#000" stroke-width="3.1" />
<line x1="400.40" y1="336.60" x2="427.50" y2="343.10" stroke="#000" stroke-width="0.9" />
<circle cx="427.5" cy="343.1" r="1.3" fill="#000"/>
<line x1="376.30" y1="362.50" x2="415.00" y2="371.30" stroke="#000" stroke-width="0.9" />
<circle cx="415" cy="371.3" r="1.3" fill="#000"/>
<line x1="345.00" y1="407.50" x2="372.50" y2="412.50" stroke="#000" stroke-width="0.9" />
<circle cx="372.5" cy="412.5" r="1.3" fill="#000"/>
<!-- section -->
<circle cx="585" cy="111.9" r="1.2" fill="#000"/>
<line x1="560.50" y1="108.20" x2="563.50" y2="109.20" stroke="#000" stroke-width="1.0" />
<line x1="609.50" y1="434.00" x2="614.20" y2="428.40" stroke="#000" stroke-width="1.0" />
<circle cx="609.6" cy="433.8" r="1.4" fill="#000"/>
<line x1="628.70" y1="441.50" x2="635.70" y2="431.20" stroke="#000" stroke-width="1.0" />
</svg>
</body></html>
